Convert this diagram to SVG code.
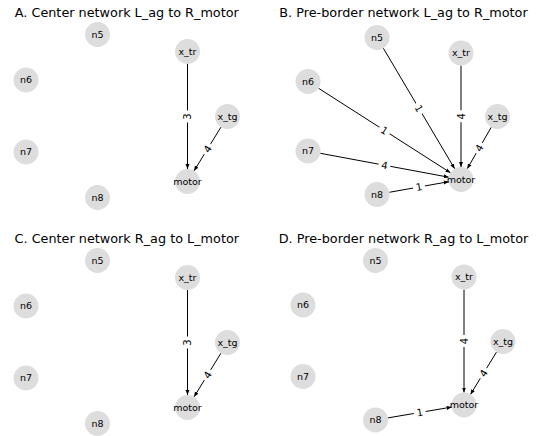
<svg xmlns="http://www.w3.org/2000/svg" width="536" height="436" viewBox="0 0 536 436">
<style>
.title{font-family:"DejaVu Sans",sans-serif;font-size:12.8px;fill:#000;text-anchor:middle}
.node circle{fill:#dddddd}
.node text{font-family:"DejaVu Sans",sans-serif;font-size:9.5px;fill:#000;text-anchor:middle}
.edges line{stroke:#000;stroke-width:1;fill:none}
.lbl rect{fill:#fff}
.lbl text{font-family:"DejaVu Sans",sans-serif;font-size:10px;fill:#000;text-anchor:middle}
</style>
<defs>
<marker id="arr" viewBox="0 -2.5 5 5" refX="5" refY="0" markerWidth="5" markerHeight="5" markerUnits="userSpaceOnUse" orient="auto">
<path d="M0,-2 L5,0 L0,2 z" fill="#000"/>
</marker>
</defs>
<rect width="536" height="436" fill="#fff"/>
<text class="title" x="126.8" y="17">A. Center network L_ag to R_motor</text>
<text class="title" x="403.5" y="17">B. Pre-border network L_ag to R_motor</text>
<text class="title" x="126.8" y="243">C. Center network R_ag to L_motor</text>
<text class="title" x="403.5" y="243">D. Pre-border network R_ag to L_motor</text>

<g id="connectors" class="edges">
<!-- A -->
<line x1="187.5" y1="64" x2="187.5" y2="169" marker-end="url(#arr)"/>
<line x1="220.95" y1="127.15" x2="194.05" y2="170.85" marker-end="url(#arr)"/>
<!-- B -->
<line x1="383.36" y1="48.26" x2="454.64" y2="168.74" marker-end="url(#arr)"/>
<line x1="318.53" y1="88.24" x2="450.47" y2="172.76" marker-end="url(#arr)"/>
<line x1="320.29" y1="153.29" x2="448.71" y2="177.21" marker-end="url(#arr)"/>
<line x1="389.31" y1="192.3" x2="448.69" y2="181.7" marker-end="url(#arr)"/>
<line x1="461" y1="65.5" x2="461" y2="167" marker-end="url(#arr)"/>
<line x1="491.23" y1="127.32" x2="467.27" y2="168.68" marker-end="url(#arr)"/>
<!-- C -->
<line x1="187.5" y1="290" x2="187.5" y2="395" marker-end="url(#arr)"/>
<line x1="220.95" y1="353.15" x2="194.05" y2="396.85" marker-end="url(#arr)"/>
<!-- D -->
<line x1="464" y1="289.5" x2="464" y2="392.5" marker-end="url(#arr)"/>
<line x1="496.46" y1="352.15" x2="470.54" y2="394.35" marker-end="url(#arr)"/>
<line x1="387.82" y1="417.91" x2="451.68" y2="407.09" marker-end="url(#arr)"/>
</g>

<g id="edge-labels">
<g class="lbl" transform="translate(187.5,116.5) rotate(-90)"><rect x="-6" y="-7" width="12" height="14" rx="2"/><text x="0" y="3.6">3</text></g>
<g class="lbl" transform="translate(207.5,149) rotate(-58.4)"><rect x="-6" y="-7" width="12" height="14" rx="2"/><text x="0" y="3.6">4</text></g>

<g class="lbl" transform="translate(419,108.5) rotate(59.4)"><rect x="-6" y="-7" width="12" height="14" rx="2"/><text x="0" y="3.6">1</text></g>
<g class="lbl" transform="translate(384.5,130.5) rotate(32.6)"><rect x="-6" y="-7" width="12" height="14" rx="2"/><text x="0" y="3.6">1</text></g>
<g class="lbl" transform="translate(384.5,165.25) rotate(10.55)"><rect x="-6" y="-7" width="12" height="14" rx="2"/><text x="0" y="3.6">4</text></g>
<g class="lbl" transform="translate(419,187) rotate(-10.1)"><rect x="-6" y="-7" width="12" height="14" rx="2"/><text x="0" y="3.6">1</text></g>
<g class="lbl" transform="translate(461,116.25) rotate(-90)"><rect x="-6" y="-7" width="12" height="14" rx="2"/><text x="0" y="3.6">4</text></g>
<g class="lbl" transform="translate(479.25,148) rotate(-59.9)"><rect x="-6" y="-7" width="12" height="14" rx="2"/><text x="0" y="3.6">4</text></g>

<g class="lbl" transform="translate(187.5,342.5) rotate(-90)"><rect x="-6" y="-7" width="12" height="14" rx="2"/><text x="0" y="3.6">3</text></g>
<g class="lbl" transform="translate(207.5,375) rotate(-58.4)"><rect x="-6" y="-7" width="12" height="14" rx="2"/><text x="0" y="3.6">4</text></g>

<g class="lbl" transform="translate(464,341) rotate(-90)"><rect x="-6" y="-7" width="12" height="14" rx="2"/><text x="0" y="3.6">4</text></g>
<g class="lbl" transform="translate(483.5,373.25) rotate(-58.4)"><rect x="-6" y="-7" width="12" height="14" rx="2"/><text x="0" y="3.6">4</text></g>
<g class="lbl" transform="translate(419.75,412.5) rotate(-9.6)"><rect x="-6" y="-7" width="12" height="14" rx="2"/><text x="0" y="3.6">1</text></g>
</g>

<!-- Panel A nodes -->
<g id="A_n5" class="node"><circle cx="97.5" cy="34.5" r="12.5"/><text x="97.5" y="37.8">n5</text></g>
<g id="A_x_tr" class="node"><circle cx="187.5" cy="51.5" r="12.5"/><text x="187.5" y="54.8">x_tr</text></g>
<g id="A_n6" class="node"><circle cx="26" cy="80" r="12.5"/><text x="26" y="83.3">n6</text></g>
<g id="A_x_tg" class="node"><circle cx="227.5" cy="116.5" r="12.5"/><text x="227.5" y="119.8">x_tg</text></g>
<g id="A_n7" class="node"><circle cx="26" cy="152" r="12.5"/><text x="26" y="155.3">n7</text></g>
<g id="A_motor" class="node"><circle cx="187.5" cy="181.5" r="12.5"/><text x="187.5" y="184.8">motor</text></g>
<g id="A_n8" class="node"><circle cx="97.5" cy="197.5" r="12.5"/><text x="97.5" y="200.8">n8</text></g>

<!-- Panel B nodes -->
<g id="B_n5" class="node"><circle cx="377" cy="37.5" r="12.5"/><text x="377" y="40.8">n5</text></g>
<g id="B_x_tr" class="node"><circle cx="461" cy="53" r="12.5"/><text x="461" y="56.3">x_tr</text></g>
<g id="B_n6" class="node"><circle cx="308" cy="81.5" r="12.5"/><text x="308" y="84.8">n6</text></g>
<g id="B_x_tg" class="node"><circle cx="497.5" cy="116.5" r="12.5"/><text x="497.5" y="119.8">x_tg</text></g>
<g id="B_n7" class="node"><circle cx="308" cy="151" r="12.5"/><text x="308" y="154.3">n7</text></g>
<g id="B_motor" class="node"><circle cx="461" cy="179.5" r="12.5"/><text x="461" y="182.8">motor</text></g>
<g id="B_n8" class="node"><circle cx="377" cy="194.5" r="12.5"/><text x="377" y="197.8">n8</text></g>

<!-- Panel C nodes -->
<g id="C_n5" class="node"><circle cx="97.5" cy="260.5" r="12.5"/><text x="97.5" y="263.8">n5</text></g>
<g id="C_x_tr" class="node"><circle cx="187.5" cy="277.5" r="12.5"/><text x="187.5" y="280.8">x_tr</text></g>
<g id="C_n6" class="node"><circle cx="26" cy="306" r="12.5"/><text x="26" y="309.3">n6</text></g>
<g id="C_x_tg" class="node"><circle cx="227.5" cy="342.5" r="12.5"/><text x="227.5" y="345.8">x_tg</text></g>
<g id="C_n7" class="node"><circle cx="26" cy="378" r="12.5"/><text x="26" y="381.3">n7</text></g>
<g id="C_motor" class="node"><circle cx="187.5" cy="407.5" r="12.5"/><text x="187.5" y="410.8">motor</text></g>
<g id="C_n8" class="node"><circle cx="97.5" cy="423.5" r="12.5"/><text x="97.5" y="426.8">n8</text></g>

<!-- Panel D nodes -->
<g id="D_n5" class="node"><circle cx="375.5" cy="260.5" r="12.5"/><text x="375.5" y="263.8">n5</text></g>
<g id="D_x_tr" class="node"><circle cx="464" cy="277" r="12.5"/><text x="464" y="280.3">x_tr</text></g>
<g id="D_n6" class="node"><circle cx="303" cy="305" r="12.5"/><text x="303" y="308.3">n6</text></g>
<g id="D_x_tg" class="node"><circle cx="503" cy="341.5" r="12.5"/><text x="503" y="344.8">x_tg</text></g>
<g id="D_n7" class="node"><circle cx="303" cy="376.5" r="12.5"/><text x="303" y="379.8">n7</text></g>
<g id="D_motor" class="node"><circle cx="464" cy="405" r="12.5"/><text x="464" y="408.3">motor</text></g>
<g id="D_n8" class="node"><circle cx="375.5" cy="420" r="12.5"/><text x="375.5" y="423.3">n8</text></g>
</svg>
